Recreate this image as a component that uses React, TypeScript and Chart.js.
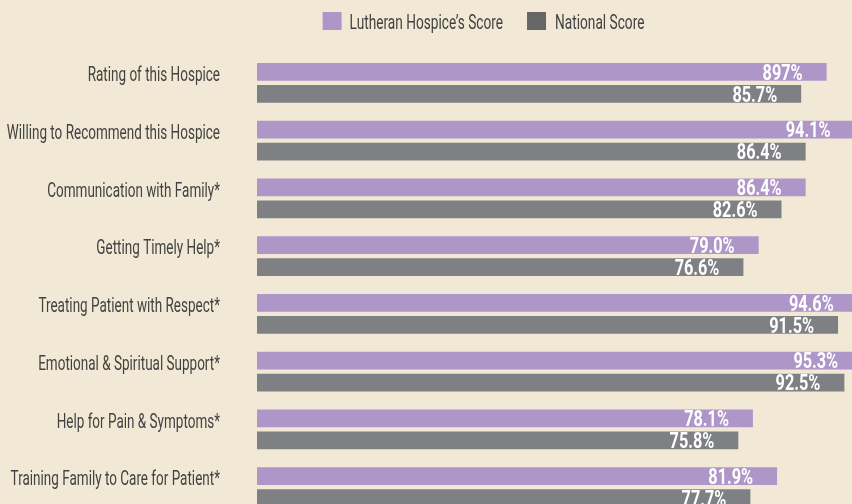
import React, { useEffect, useRef } from "react";
import { Chart, registerables } from "chart.js";

Chart.register(...registerables);

const categories = [
  "Rating of this Hospice",
  "Willing to Recommend this Hospice",
  "Communication with Family*",
  "Getting Timely Help*",
  "Treating Patient with Respect*",
  "Emotional & Spiritual Support*",
  "Help for Pain & Symptoms*",
  "Training Family to Care for Patient*",
];

const lutheranScores = [89.7, 94.1, 86.4, 79.0, 94.6, 95.3, 78.1, 81.9];
const nationalScores = [85.7, 86.4, 82.6, 76.6, 91.5, 92.5, 75.8, 77.7];

const lutheranLabels = ["897%", "94.1%", "86.4%", "79.0%", "94.6%", "95.3%", "78.1%", "81.9%"];
const nationalLabels = ["85.7%", "86.4%", "82.6%", "76.6%", "91.5%", "92.5%", "75.8%", "77.7%"];

const seriesNames = ["Lutheran Hospice\u2019s Score", "National Score"];

const FONT = "Roboto, 'Noto Sans', sans-serif";
const BG = "#f1e9d5";
const PURPLE = "#ae96c8";
const GRAY = "#7f8084";
const LEGEND_GRAY = "#666666";
const TEXT = "#424242";

function condensedText(
  ctx: CanvasRenderingContext2D,
  text: string,
  x: number,
  y: number,
  sx: number,
  align: CanvasTextAlign
) {
  ctx.save();
  ctx.translate(x, y);
  ctx.scale(sx, 1);
  ctx.textAlign = align;
  ctx.fillText(text, 0, 0);
  ctx.restore();
}

const textPlugin = {
  id: "condensedTexts",
  afterDatasetsDraw(chart: any) {
    const ctx: CanvasRenderingContext2D = chart.ctx;
    const yScale = chart.scales.y;
    const meta0 = chart.getDatasetMeta(0);

    // category labels (aligned with the first bar of each group)
    ctx.save();
    ctx.font = `20px ${FONT}`;
    ctx.fillStyle = TEXT;
    ctx.textBaseline = "alphabetic";
    chart.data.labels.forEach((lab: string, i: number) => {
      const bar = meta0.data[i];
      condensedText(ctx, lab, yScale.right - 37, bar.y + 9.3, 0.675, "right");
    });
    ctx.restore();

    // value labels
    const allLabels = [lutheranLabels, nationalLabels];
    ctx.save();
    ctx.font = `bold 22px ${FONT}`;
    ctx.fillStyle = "#ffffff";
    ctx.textBaseline = "alphabetic";
    chart.data.datasets.forEach((_ds: any, di: number) => {
      const meta = chart.getDatasetMeta(di);
      meta.data.forEach((bar: any, i: number) => {
        condensedText(ctx, allLabels[di][i], bar.x - 24, bar.y + 7.8, 0.74, "right");
      });
    });
    ctx.restore();

    // legend
    ctx.save();
    ctx.font = `20px ${FONT}`;
    const sx = 0.684;
    const boxW = 19;
    const boxH = 18;
    const w = seriesNames.map((s) => ctx.measureText(s).width * sx);
    const total = boxW + 8 + w[0] + 24 + boxW + 9 + w[1];
    let x = 483.5 - total / 2;
    const top = 12;
    const colors = [PURPLE, LEGEND_GRAY];
    seriesNames.forEach((name, i) => {
      ctx.fillStyle = colors[i];
      ctx.fillRect(x, top, boxW, boxH);
      x += boxW + 8 + (i === 1 ? 1 : 0);
      ctx.fillStyle = TEXT;
      ctx.textBaseline = "alphabetic";
      condensedText(ctx, name, x, top + 17.3, sx, "left");
      x += w[i] + 24;
    });
    ctx.restore();
  },
};

export default function App() {
  const ref = useRef<HTMLCanvasElement | null>(null);

  useEffect(() => {
    if (!ref.current) return;
    const chart = new Chart(ref.current, {
      type: "bar",
      data: {
        labels: categories,
        datasets: [
          {
            label: seriesNames[0],
            data: lutheranScores,
            backgroundColor: PURPLE,
            borderWidth: 0,
            barPercentage: 0.8,
            categoryPercentage: 0.766,
          },
          {
            label: seriesNames[1],
            data: nationalScores,
            backgroundColor: GRAY,
            borderWidth: 0,
            barPercentage: 0.8,
            categoryPercentage: 0.766,
          },
        ],
      },
      options: {
        indexAxis: "y",
        responsive: false,
        animation: false,
        devicePixelRatio: 1,
        layout: { padding: { left: 0, right: 8, top: 54, bottom: 0 } },
        scales: {
          x: {
            display: false,
            min: 0,
            max: 100,
          },
          y: {
            grid: { display: false },
            border: { display: false },
            ticks: { display: false },
            afterFit(scale: any) {
              scale.width = 257;
            },
          },
        },
        plugins: {
          tooltip: { enabled: false },
          legend: { display: false },
        },
      },
      plugins: [textPlugin],
    } as any);
    return () => chart.destroy();
  }, []);

  return (
    <div
      style={{
        position: "fixed",
        left: 0,
        top: 0,
        width: 852,
        height: 504,
        overflow: "hidden",
        background: BG,
      }}
    >
      <canvas
        ref={ref}
        width={900}
        height={516}
        style={{ position: "absolute", left: 0, top: 0, width: 900, height: 516 }}
      />
    </div>
  );
}
